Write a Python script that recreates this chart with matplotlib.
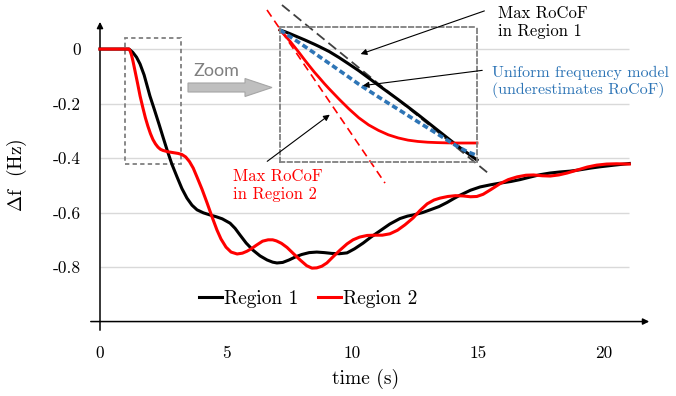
import matplotlib
matplotlib.use("Agg")
import matplotlib.pyplot as plt
import matplotlib.patches as mpatches

plt.rcParams['font.family'] = ['cmr10', 'DejaVu Serif']
plt.rcParams['mathtext.fontset'] = 'cm'
plt.rcParams['axes.unicode_minus'] = False

# frequency deviation of the two regions
t_r1 = [0, 1.15, 1.3, 1.45, 1.59, 1.75, 1.9, 1.98, 2.15, 2.35, 2.5, 2.66, 2.85, 3.06, 3.25,
        3.45, 3.65, 3.85, 4.1, 4.37, 4.6, 4.85, 5.16, 5.36, 5.56, 5.8, 6.07, 6.35, 6.63,
        6.85, 7.02, 7.25, 7.5, 7.75, 8.0, 8.3, 8.6, 8.9, 9.2, 9.5, 9.8, 10.1, 10.44, 10.75,
        11.11, 11.5, 11.9, 12.2, 12.42, 12.8, 13.1, 13.45, 13.77, 14.05, 14.29, 14.7, 15.08,
        15.5, 15.87, 16.3, 16.67, 17.1, 17.46, 17.85, 18.25, 18.65, 19.05, 19.45, 19.84,
        20.4, 21]
f_r1 = [0, 0, -0.012, -0.03, -0.055, -0.095, -0.145, -0.172, -0.22, -0.278, -0.323, -0.37,
        -0.422, -0.47, -0.512, -0.547, -0.573, -0.59, -0.601, -0.609, -0.615, -0.623,
        -0.639, -0.658, -0.683, -0.712, -0.738, -0.759, -0.774, -0.782, -0.785, -0.783,
        -0.774, -0.763, -0.754, -0.747, -0.745, -0.747, -0.75, -0.751, -0.748, -0.733,
        -0.712, -0.69, -0.667, -0.642, -0.622, -0.613, -0.609, -0.6, -0.59, -0.578, -0.563,
        -0.548, -0.536, -0.518, -0.506, -0.498, -0.492, -0.486, -0.479, -0.469, -0.461,
        -0.455, -0.451, -0.448, -0.443, -0.437, -0.432, -0.426, -0.42]

t_r2 = [0, 1.15, 1.2, 1.25, 1.31, 1.4, 1.5, 1.59, 1.7, 1.8, 1.9, 2.0, 2.1, 2.2, 2.3, 2.4, 2.5,
        2.7, 2.9, 3.1, 3.25, 3.4, 3.55, 3.7, 3.85, 4.05, 4.25, 4.45, 4.64, 4.8, 5.0, 5.2,
        5.44, 5.65, 5.83, 6.0, 6.2, 6.45, 6.67, 6.85, 7.0, 7.2, 7.42, 7.7, 7.94, 8.2, 8.41,
        8.6, 8.8, 9.0, 9.25, 9.52, 9.8, 10.04, 10.3, 10.6, 10.9, 11.2, 11.5, 11.8, 12.1,
        12.42, 12.7, 12.98, 13.25, 13.49, 13.8, 14.1, 14.4, 14.7, 14.95, 15.2, 15.5, 15.87,
        16.2, 16.55, 16.9, 17.2, 17.55, 17.86, 18.2, 18.53, 18.9, 19.33, 19.7, 20.1, 20.5, 21]
f_r2 = [0, 0, -0.008, -0.022, -0.045, -0.085, -0.13, -0.172, -0.215, -0.252, -0.283, -0.31,
        -0.332, -0.348, -0.36, -0.368, -0.372, -0.377, -0.38, -0.383, -0.387, -0.396,
        -0.413, -0.437, -0.47, -0.515, -0.565, -0.617, -0.664, -0.697, -0.727, -0.745,
        -0.752, -0.749, -0.742, -0.733, -0.72, -0.705, -0.70, -0.70, -0.704, -0.713, -0.728,
        -0.753, -0.774, -0.795, -0.804, -0.803, -0.797, -0.785, -0.762, -0.738, -0.715,
        -0.70, -0.69, -0.684, -0.683, -0.683, -0.678, -0.665, -0.645, -0.62, -0.592, -0.568,
        -0.554, -0.547, -0.541, -0.538, -0.539, -0.542, -0.541, -0.533, -0.516, -0.494,
        -0.479, -0.469, -0.463, -0.462, -0.465, -0.466, -0.462, -0.455, -0.445, -0.433,
        -0.426, -0.422, -0.421, -0.422]

# zoomed view, normalised units
zoom_t = [0, 0.025, 0.05, 0.075, 0.1, 0.125, 0.15, 0.175, 0.2, 0.225, 0.25, 0.3, 0.35, 0.4,
          0.45, 0.5, 0.55, 0.6, 0.65, 0.7, 0.75, 0.8, 0.85, 0.9, 0.95, 1.0]
zoom_r1 = [0, -0.013, -0.028, -0.044, -0.06, -0.076, -0.093, -0.11, -0.128, -0.147, -0.166,
           -0.212, -0.262, -0.313, -0.369, -0.425, -0.48, -0.535, -0.592, -0.65, -0.71,
           -0.77, -0.83, -0.89, -0.945, -1.0]
zoom_r2 = [0, -0.042, -0.085, -0.132, -0.18, -0.23, -0.278, -0.325, -0.368, -0.412, -0.453,
           -0.532, -0.607, -0.675, -0.73, -0.772, -0.806, -0.83, -0.847, -0.857, -0.863,
           -0.866, -0.868, -0.869, -0.869, -0.869]
zoom_uni = [0, -0.025, -0.05, -0.075, -0.1, -0.126, -0.152, -0.178, -0.205, -0.231, -0.257,
            -0.31, -0.363, -0.417, -0.466, -0.515, -0.563, -0.61, -0.658, -0.706, -0.753,
            -0.8, -0.848, -0.895, -0.935, -0.965]
tan_r1_x, tan_r1_y = [0.01, 1.056], [0.192, -1.1]
tan_r2_x, tan_r2_y = [-0.066, 0.533], [0.154, -1.177]

xticks = [0, 5, 10, 15, 20]
yticks = [0, -0.2, -0.4, -0.6, -0.8]
ytick_labels = ['0', '-0.2', '-0.4', '-0.6', '-0.8']

W, H = 676, 396
fig = plt.figure(figsize=(W / 100, H / 100), dpi=100)
ax = fig.add_axes([88 / W, (H - 333) / H, (652 - 88) / W, (333 - 18) / H])
ax.set_xlim(-0.476, 21.9)
ax.set_ylim(-1.042, 0.114)
for s in ax.spines.values():
    s.set_visible(False)

ax.hlines(yticks, 0, 21, color='#d9d9d9', lw=1.0, zorder=0)

# axis arrows
ax.annotate('', xy=(0, 0.11), xytext=(0, -1.042),
            arrowprops=dict(arrowstyle='-|>', color='black', lw=1.1, mutation_scale=9))
ax.annotate('', xy=(21.9, -1.0), xytext=(-0.476, -1.0),
            arrowprops=dict(arrowstyle='-|>', color='black', lw=1.1, mutation_scale=9))

ax.set_xticks(xticks)
ax.set_xticklabels([str(v) for v in xticks])
ax.set_yticks(yticks)
ax.set_yticklabels(ytick_labels)
ax.tick_params(length=0, labelsize=12.5)
ax.tick_params(axis='x', pad=9)
ax.tick_params(axis='y', pad=5)

ax.plot(t_r1, f_r1, color='black', lw=2.2, label='Region 1', zorder=3,
        solid_joinstyle='round')
ax.plot(t_r2, f_r2, color='#ff0000', lw=2.2, label='Region 2', zorder=4,
        solid_joinstyle='round')

ax.add_patch(mpatches.Rectangle((1.0, -0.42), 2.2, 0.46, fill=False, ec='#7f7f7f',
                                lw=1.3, ls=(0, (2.4, 1.8)), zorder=2))

leg = ax.legend(loc='center', bbox_to_anchor=(0.39, 0.108), ncol=2, frameon=False,
                fontsize=14, handlelength=1.2, handletextpad=0.1, columnspacing=1.0)

fig.text(17 / W, 1 - 175 / H, r'$\Delta$f  (Hz)', rotation=90, ha='center', va='center',
         fontsize=14)
fig.text(366 / W, 1 - 379 / H, 'time (s)', ha='center', va='center', fontsize=14)

# zoomed inset
ax2 = fig.add_axes([280 / W, (H - 162) / H, 197 / W, 135 / H])
ax2.set_xlim(0, 1)
ax2.set_ylim(-1.015, 0.023)
ax2.patch.set_alpha(0)
ax2.set_xticks([])
ax2.set_yticks([])
for s in ax2.spines.values():
    s.set_color('#7f7f7f')
    s.set_linewidth(1.3)
    s.set_linestyle((0, (2.4, 1.8)))
ax2.plot(tan_r1_x, tan_r1_y, color='#404040', lw=1.3, dashes=(5.5, 2.8), clip_on=False)
ax2.plot(tan_r2_x, tan_r2_y, color='#ff0000', lw=1.2, dashes=(4.8, 3), clip_on=False)
ax2.plot(zoom_t, zoom_r1, color='black', lw=2.2, clip_on=False, solid_joinstyle='round')
ax2.plot(zoom_t, zoom_r2, color='#ff0000', lw=2.0, clip_on=False, solid_joinstyle='round')
ax2.plot(zoom_t, zoom_uni, color='#2e75b6', lw=2.6, dashes=(1.6, 0.9), clip_on=False)

# zoom arrow
fig.patches.append(mpatches.FancyArrow(1.88, (H - 87.5) / 100, 0.84, 0, width=0.09,
                                       head_width=0.18, head_length=0.27,
                                       length_includes_head=True, fc='#bfbfbf',
                                       ec='#a5a5a5', lw=0.8,
                                       transform=fig.dpi_scale_trans, figure=fig))
fig.text(216 / W, 1 - 71 / H, 'Zoom', family=['Lato', 'DejaVu Sans'], color='#7f7f7f',
         fontsize=13, ha='center', va='center')

# annotations
fig.text(498 / W, 1 - 22 / H, 'Max RoCoF\nin Region 1', ha='left', va='center', fontsize=12)
fig.text(492 / W, 1 - 82 / H, 'Uniform frequency model\n(underestimates RoCoF)',
         ha='left', va='center', fontsize=11.5, color='#2e75b6')
fig.text(233 / W, 1 - 185 / H, 'Max RoCoF\nin Region 2', ha='left', va='center',
         fontsize=12, color='#ff0000')

aprops = dict(arrowstyle='-|>', color='black', lw=0.8, mutation_scale=9)
for tail, tip in [((487, 10), (358, 55)), ((485, 70), (360, 86)), ((265, 163), (332, 113))]:
    fig.add_artist(mpatches.FancyArrowPatch((tail[0], H - tail[1]), (tip[0], H - tip[1]),
                                            transform=None, **aprops))

fig.savefig('out.png', dpi=100)
